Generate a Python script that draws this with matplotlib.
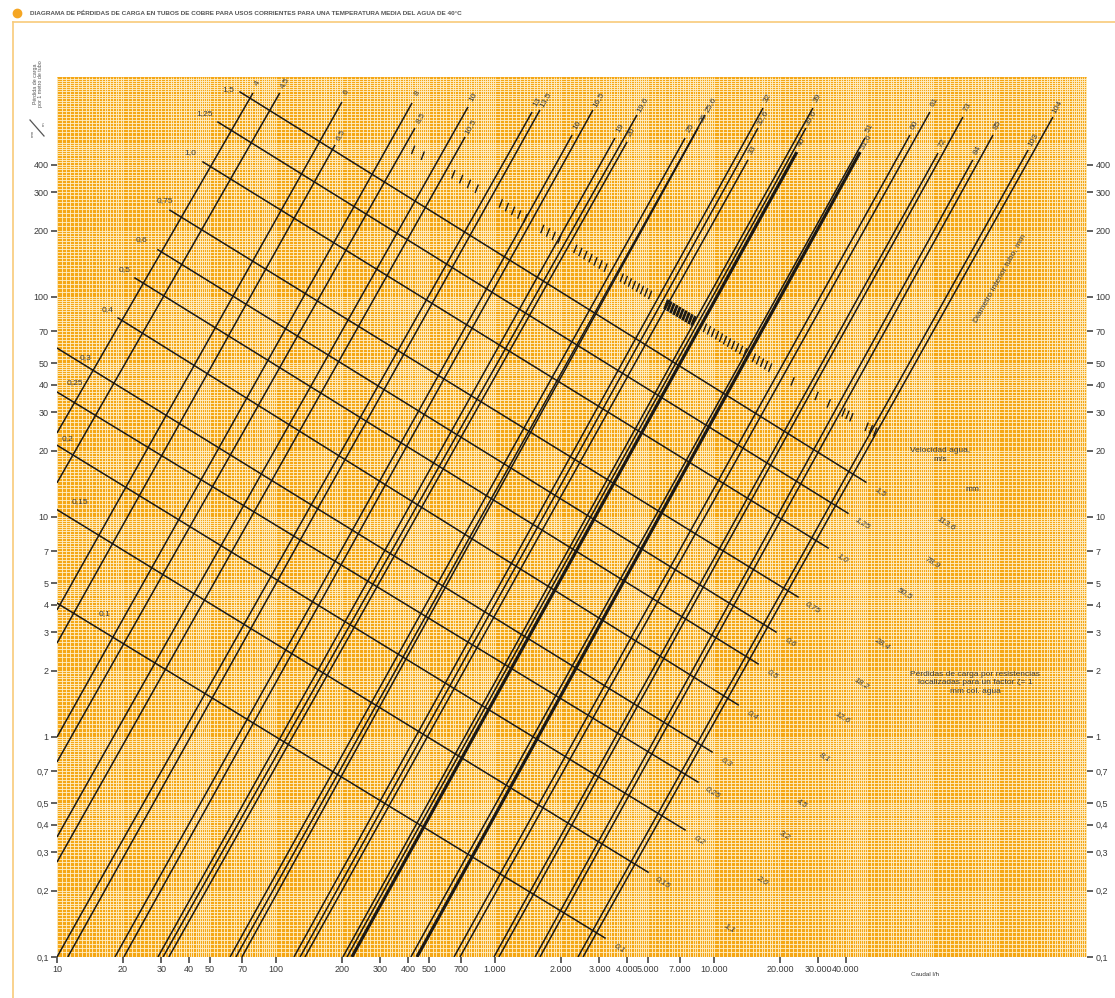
import numpy as np
import matplotlib.pyplot as plt
from matplotlib.lines import Line2D
from matplotlib.ticker import NullLocator
import matplotlib.patheffects as pe

plt.rcParams['font.family'] = ['Liberation Sans', 'DejaVu Sans']

# --- pipe lines: interior diameter (mm), lower and upper ends (caudal l/h, mm/m)
diam_labels = ["4", "4,5", "6", "6,5", "8", "8,5", "10", "10,5", "13", "13,5",
               "16", "16,5", "19", "19,6", "20", "25", "25,6", "26", "32", "32,6",
               "33", "39", "39,6", "40", "51", "51,6", "60", "61", "72", "73",
               "84", "85", "103", "104"]
diam_q_low = [10, 10, 10, 10, 10, 10, 10, 10, 10, 11.2,
              18.4, 20.2, 28.9, 30.5, 32.4, 61.7, 65.6, 69.9, 120.8, 128.8,
              135.6, 202, 211, 222, 413, 440, 650, 692, 989, 1042,
              1524, 1604, 2393, 2523]
diam_j_low = [24.1, 14.3, 3.78, 2.67, 1.0, 0.77, 0.351, 0.27, 0.1, 0.1,
              0.1, 0.1, 0.1, 0.1, 0.1, 0.1, 0.1, 0.1, 0.1, 0.1,
              0.1, 0.1, 0.1, 0.1, 0.1, 0.1, 0.1, 0.1, 0.1, 0.1,
              0.1, 0.1, 0.1, 0.1]
diam_q_top = [78.5, 104, 200, 186, 418, 431, 753, 730, 1476, 1604,
              2250, 2800, 3530, 4450, 4010, 7380, 9100, 8460, 16750, 15880,
              14300, 28300, 26300, 23900, 48900, 46500, 78500, 96800, 105400, 137000,
              152000, 188000, 272000, 353000]
diam_j_top = [846, 846, 770, 491, 762, 586, 731, 534, 693, 708,
              545, 708, 528, 672, 507, 528, 672, 586, 723, 586,
              420, 723, 586, 456, 528, 456, 545, 693, 451, 658,
              420, 545, 466, 658]
heavy_pipes = ["40", "51,6"]

# --- velocity lines (m/s): start and end (caudal l/h, mm/m)
vel_labels = ["1,5", "1,25", "1,0", "0,75", "0,6", "0,5", "0,4", "0,3", "0,25", "0,2", "0,15", "0,1"]
vel_q0 = [68.5, 54.3, 46.4, 32.8, 28.9, 22.7, 19.0, 10, 10, 10, 10, 10]
vel_j0 = [855, 624, 411, 248, 164, 122, 80.3, 58.6, 37.0, 21.2, 10.8, 4.06]
vel_q1 = [49400, 40900, 33200, 24200, 19200, 15900, 12900, 9800, 8450, 7380, 5000, 3180]
vel_j1 = [14.4, 10.4, 7.23, 4.33, 3.0, 2.15, 1.40, 0.855, 0.624, 0.378, 0.243, 0.122]
# where the left-hand labels sit relative to the line start (pixels)
vel_lbl_off = [(-12, 2), (-13, 9), (-13, 9), (-5, 10), (-16, 10), (-10, 8), (-11, 8),
               (28, -9), (18, 9), (11, 7), (23, 8), (48, -10)]

# --- local losses for zeta = 1 (mm col. agua)
loss_labels = ["113,6", "78,9", "50,5", "28,4", "18,2", "12,6", "8,1", "4,5", "3,2", "2,0", "1,1"]
loss_q = [116000, 98900, 74500, 58500, 47400, 38800, 32100, 25200, 21100, 16600, 11800]
loss_j = [9.4, 6.24, 4.52, 2.67, 1.76, 1.23, 0.81, 0.50, 0.359, 0.224, 0.136]

# --- hatched limit line, drawn as groups of ticks
hatch_q_a = [409, 623, 1033, 1603, 2270, 3720, 5970, 8910, 14930, 22200, 28600, 32500, 38400, 48900]
hatch_j_a = [476, 369, 271, 207, 168, 124, 93.3, 73.3, 53.6, 42.1, 36.1, 33.4, 30.2, 26.0]
hatch_q_b = [484, 855, 1416, 2022, 3280, 5210, 8180, 14150, 18400, 24200, 31100, 35300, 43100, 55400]
hatch_j_b = [430, 304, 224, 180, 134, 101, 77.1, 55.3, 47.2, 39.9, 34.3, 31.7, 28.1, 24.1]
hatch_n = [2, 4, 5, 4, 7, 8, 10, 11, 5, 1, 1, 1, 3, 3]

# --- axes ticks
x_ticks = [10, 20, 30, 40, 50, 70, 100, 200, 300, 400, 500, 700, 1000, 2000, 3000,
           4000, 5000, 7000, 10000, 20000, 30000, 40000]
x_tick_labels = ["10", "20", "30", "40", "50", "70", "100", "200", "300", "400", "500",
                 "700", "1.000", "2.000", "3.000", "4.000", "5.000", "7.000", "10.000",
                 "20.000", "30.000", "40.000"]
y_ticks = [0.1, 0.2, 0.3, 0.4, 0.5, 0.7, 1, 2, 3, 4, 5, 7, 10, 20, 30, 40, 50, 70,
           100, 200, 300, 400]
y_tick_labels = ["0,1", "0,2", "0,3", "0,4", "0,5", "0,7", "1", "2", "3", "4", "5", "7",
                 "10", "20", "30", "40", "50", "70", "100", "200", "300", "400"]

ink = '#1c1915'
txt = '#3a3a3a'
orange = '#F5A716'
mesh = '#FFF1CC'

fig = plt.figure(figsize=(11.15, 9.98), dpi=100)
ax = fig.add_axes([57 / 1115, 41 / 998, 1030 / 1115, 880 / 998])
ax.set_xscale('log')
ax.set_yscale('log')
ax.set_xlim(10, 5.05e5)
ax.set_ylim(0.1, 1000)
ax.set_facecolor(orange)
for s in ax.spines.values():
    s.set_visible(False)

# log paper mesh
def paper(d0, d1):
    vals = []
    for d in range(d0, d1):
        b = 10.0 ** d
        vals += list(b * np.arange(1, 2, 0.05)) + list(b * np.arange(2, 5, 0.1)) + list(b * np.arange(5, 10, 0.2))
    return vals

ax.vlines(paper(1, 6), 0.1, 1000, color=mesh, lw=0.6, zorder=0.5)
ax.hlines(paper(-1, 3), 10, 5.05e5, color=mesh, lw=0.6, zorder=0.5)

ax.set_xticks(x_ticks, x_tick_labels)
ax.set_yticks(y_ticks, y_tick_labels)
ax.xaxis.set_minor_locator(NullLocator())
ax.yaxis.set_minor_locator(NullLocator())
ax.tick_params(axis='both', direction='out', length=4, width=1.3, color='#555555',
               labelsize=6.5, labelcolor=txt, pad=2)
ax.tick_params(axis='y', right=True, labelright=True)

# pipe lines
for lbl, q0, j0, q1, j1 in zip(diam_labels, diam_q_low, diam_j_low, diam_q_top, diam_j_top):
    lw = 2.3 if lbl in heavy_pipes else 1.1
    ax.plot([q0, q1], [j0, j1], color=ink, lw=lw, solid_capstyle='butt', zorder=3)
    ax.annotate(lbl, (q1, j1), xytext=(5, 10), textcoords='offset pixels',
                rotation=60.7, ha='center', va='center', fontsize=6, color=txt, zorder=4)

# velocity lines
for i, lbl in enumerate(vel_labels):
    ax.plot([vel_q0[i], vel_q1[i]], [vel_j0[i], vel_j1[i]], color=ink, lw=1.1, zorder=3)
    ax.annotate(lbl, (vel_q0[i], vel_j0[i]), xytext=vel_lbl_off[i], textcoords='offset pixels',
                ha='center', va='center', fontsize=6, color=txt, zorder=4)
    ax.annotate(lbl, (vel_q1[i], vel_j1[i]), xytext=(15, -10), textcoords='offset pixels',
                rotation=-31.6, ha='center', va='center', fontsize=6, style='italic',
                color=txt, zorder=4)

for lbl, q, j in zip(loss_labels, loss_q, loss_j):
    ax.text(q, j, lbl, rotation=-31.6, ha='center', va='center', fontsize=6,
            style='italic', color=txt)

# hatched line (ticks only, no base line)
tick_len = 5.5  # points
tick_ang = 100  # relative to the line
u = np.radians(-31.6 + tick_ang)
for i in range(len(hatch_n)):
    p = ax.transData.transform([(hatch_q_a[i], hatch_j_a[i]), (hatch_q_b[i], hatch_j_b[i])])
    seg = np.hypot(*(p[1] - p[0]))
    sp = seg / (hatch_n[i] + 0.5) * 72 / fig.dpi
    lw = 2.0 if i == 6 else 1.0
    ax.plot([hatch_q_a[i], hatch_q_b[i]], [hatch_j_a[i], hatch_j_b[i]], color=ink, lw=lw, zorder=3,
            path_effects=[pe.TickedStroke(spacing=sp, angle=tick_ang, length=tick_len / sp,
                                          offset=(-0.5 * tick_len * np.cos(u),
                                                  -0.5 * tick_len * np.sin(u)))])

ax.text(107600, 19.1, "Velocidad agua,\nm/s", ha='center', va='center', fontsize=6, color=txt,
        linespacing=1.3)
ax.text(152000, 13.3, "mm", ha='center', va='center', fontsize=6, color=txt)
ax.text(202000, 122, "Diámetro interior tubo, mm", rotation=60.7, ha='center', va='center',
        fontsize=6, color=txt)
ax.text(155600, 1.76, "Pérdidas de carga por resistencias\nlocalizadas para un factor ζ= 1\nmm col. agua",
        ha='center', va='center', fontsize=6, color=txt, linespacing=1.3)
ax.text(91800, 0.083, "Caudal l/h", ha='center', va='center', fontsize=4.5, color=txt, clip_on=False)

# page decoration
fig.add_artist(Line2D([13 / 1115, 1], [1 - 22 / 998, 1 - 22 / 998], color='#F8CB7A', lw=1.2,
                      transform=fig.transFigure))
fig.add_artist(Line2D([13 / 1115, 13 / 1115], [0, 1 - 22 / 998], color='#F8CB7A', lw=1.2,
                      transform=fig.transFigure))
fig.add_artist(Line2D([17 / 1115], [1 - 13 / 998], marker='o', ms=6, color='#F5A623',
                      transform=fig.transFigure))
fig.text(30 / 1115, 1 - 13 / 998,
         "DIAGRAMA DE PÉRDIDAS DE CARGA EN TUBOS DE COBRE PARA USOS CORRIENTES PARA UNA "
         "TEMPERATURA MEDIA DEL AGUA DE 40°C",
         fontsize=4.6, fontweight='bold', color='#555555', va='center')
fig.text(38 / 1115, 1 - 84 / 998, "Pérdida de carga\npor 1 metro de tubo", rotation=90,
         ha='center', va='center', fontsize=3.8, color='#555555', linespacing=1.2)
fig.add_artist(Line2D([30 / 1115, 44 / 1115], [1 - 120 / 998, 1 - 136 / 998], color='#555555',
                      lw=0.9, transform=fig.transFigure))
fig.text(33 / 1115, 1 - 133 / 998, "mm", rotation=90, ha='center', va='center', fontsize=3.2,
         color='#555555')
fig.text(44 / 1115, 1 - 124 / 998, "m", rotation=90, ha='center', va='center', fontsize=3.2,
         color='#555555')

fig.savefig('out.png', dpi=100, facecolor='white')
